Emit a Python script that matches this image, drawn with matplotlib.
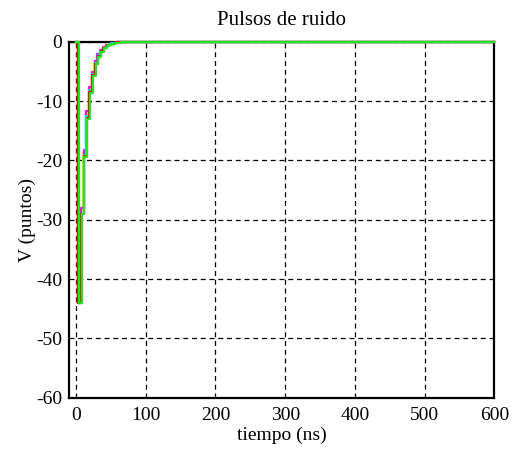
import matplotlib
matplotlib.use("Agg")
import matplotlib.pyplot as plt
import numpy as np

plt.rcParams["font.family"] = ["Liberation Serif", "DejaVu Serif"]
plt.rcParams["font.size"] = 14
plt.rcParams["axes.unicode_minus"] = False

# periodo de muestreo (ns) y fin de la ventana
T_SAMPLE = 4.0
T_END = 600.0

# instante de disparo de cada pulso (ns)
t_start = {"yellow": 2.5, "magenta": 2.8, "cyan": 3.0, "red": 3.3, "green": 4.0}

# niveles muestreados de cada pulso (puntos)
yellow = [-44, -28.5, -18.8, -12.2, -7.9, -5.2, -3.4, -2.2, -1.5, -1.0, -0.6, -0.4, -0.25, -0.15, -0.1, 0]
magenta = [-44, -28, -18.2, -11.6, -7.6, -5.0, -3.3, -2.1, -1.4, -0.9, -0.6, -0.4, -0.25, -0.15, 0]
cyan = [-44, -29, -19, -12.5, -8.1, -5.4, -3.5, -2.3, -1.5, -1.0, -0.65, -0.4, -0.25, -0.15, -0.1, 0]
red = [-44, -29, -19.3, -12.8, -8.4, -5.6, -3.7, -2.4, -1.6, -1.05, -0.7, -0.45, -0.3, -0.2, -0.1, 0]
green = [-44, -29, -19.5, -13, -8.6, -5.7, -3.8, -2.5, -1.7, -1.1, -0.75, -0.5, -0.33, -0.22, -0.15, -0.1, 0]

series = [("yellow", yellow, "#ffff00"),
          ("magenta", magenta, "#ff00ff"),
          ("cyan", cyan, "#00e5ff"),
          ("red", red, "#ff0000"),
          ("green", green, "#1ee61e")]


def pulse(name, levels):
    t0 = t_start[name]
    t = np.concatenate([[0.0], t0 + T_SAMPLE * np.arange(len(levels)), [T_END]])
    v = np.concatenate([[0.0], levels, [levels[-1]]])
    return t, v


fig = plt.figure(figsize=(5.15, 4.55), dpi=100)
ax = fig.add_axes([0.134, 0.126, 0.826, 0.782])

for name, levels, color in series:
    t, v = pulse(name, levels)
    ax.step(t, v, where="post", color=color, lw=1.6, zorder=3, clip_on=False)

ax.set_xlim(-10, 600)
ax.set_ylim(-60, 0)
ax.set_xticks(np.arange(0, 601, 100))
ax.set_yticks(np.arange(-60, 1, 10))
ax.grid(True, color="black", linestyle=(0, (4, 3)), linewidth=0.9)
ax.tick_params(direction="in", length=0, colors="black", labelsize=14)
ax.tick_params(axis="x", pad=7)
ax.tick_params(axis="y", pad=5)
for sp in ax.spines.values():
    sp.set_linewidth(1.6)

ax.set_title("Pulsos de ruido", fontsize=15, pad=12)
ax.set_xlabel("tiempo (ns)", fontsize=14, labelpad=2)
ax.set_ylabel("V (puntos)", fontsize=14, labelpad=0)

fig.savefig("out.png", dpi=100)
